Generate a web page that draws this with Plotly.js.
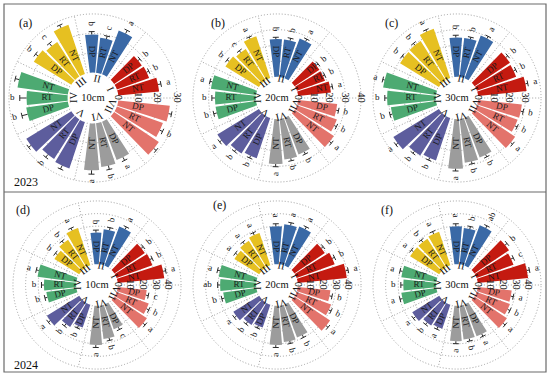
<!DOCTYPE html>
<html><head><meta charset="utf-8">
<script src="https://cdn.plot.ly/plotly-3.0.1.min.js"></script>
<style>html,body{margin:0;padding:0;background:#fff}#chart{width:550px;height:378px}</style>
</head><body><div id="chart"></div>
<script>
// ---------- categories / labels ----------
const groups = ['I','II','III','IV','V','VI','VII'];
const treatments = ['NT','RT','DP'];          // counter-clockwise order inside a group
const groupColors = ['#C41A10','#3A69A6','#E6C021','#4DAA72','#5D5D9D','#9C9C9C','#E3736B'];
const panelTags = ['(a)','(b)','(c)','(d)','(e)','(f)'];
const depths = ['10cm','20cm','30cm','10cm','20cm','30cm'];
const years = ['2023','2024'];
const ticksA = [0,10,20,30];
const ticksB = [0,10,20,30,40];
const ticksC = [0,10,20,30];
const ticks2024 = [0,10,20,30,40];

// ---------- (a) 2023 10cm ----------
const a_NT = [21, 24, 26.5, 26, 27, 24, 27.5];
const a_RT = [17.5, 18, 21, 21, 24, 22.5, 25];
const a_DP = [17, 19.5, 22.5, 21.5, 25, 21, 26.5];
const a_NT_err = [1.5, 1.8, 1.5, 2.0, 1.5, 2.0, 1.5];
const a_RT_err = [1.2, 1.5, 1.8, 3.5, 1.8, 2.0, 1.5];
const a_DP_err = [1.2, 1.5, 1.5, 3.0, 2.0, 1.8, 1.5];
const a_NT_sig = ['a','a','a','a','a','a','a'];
const a_RT_sig = ['b','c','c','b','b','b','b'];
const a_DP_sig = ['b','b','b','b','ab','a','a'];
// ---------- (b) 2023 20cm ----------
const b_NT = [21, 27, 28, 29, 31, 28.5, 30];
const b_RT = [19, 24, 23.5, 26, 28.5, 26, 27];
const b_DP = [19, 24, 25, 26, 27, 25, 25];
const b_NT_err = [1.5, 1.5, 1.2, 1.5, 1.5, 1.8, 1.5];
const b_RT_err = [1.2, 1.5, 1.5, 2.0, 1.5, 1.5, 1.5];
const b_DP_err = [1.5, 1.2, 1.5, 2.0, 1.5, 1.5, 1.5];
const b_NT_sig = ['a','a','a','a','a','a','a'];
const b_RT_sig = ['b','b','c','b','b','b','b'];
const b_DP_sig = ['b','b','b','b','b','b','b'];
// ---------- (c) 2023 30cm ----------
const c_NT = [31, 29, 33, 34, 34, 31.5, 31];
const c_RT = [26.5, 25, 29.5, 31, 30, 28, 27.5];
const c_DP = [27, 25, 29, 29, 28.5, 27, 28];
const c_NT_err = [1.5, 1.5, 1.2, 1.2, 1.5, 1.5, 1.5];
const c_RT_err = [1.5, 1.2, 1.5, 1.5, 1.5, 1.5, 1.5];
const c_DP_err = [1.5, 1.5, 1.5, 1.5, 1.5, 1.5, 1.5];
const c_NT_sig = ['a','a','a','a','a','a','a'];
const c_RT_sig = ['b','b','b','b','b','b','b'];
const c_DP_sig = ['b','b','b','b','b','b','b'];
// ---------- (d) 2024 10cm ----------
const d_NT = [37, 33, 31, 31, 30, 31, 31];
const d_RT = [30, 28, 26, 25.5, 23, 26.5, 27];
const d_DP = [29, 25, 23, 24, 19, 21, 23];
const d_NT_err = [2.0, 2.0, 2.0, 2.0, 2.0, 2.0, 2.0];
const d_RT_err = [2.0, 2.0, 2.0, 2.0, 2.0, 2.0, 2.0];
const d_DP_err = [2.0, 2.0, 2.0, 2.0, 2.0, 2.0, 2.0];
const d_NT_sig = ['a','a','a','a','a','a','a'];
const d_RT_sig = ['b','b','b','b','b','b','b'];
const d_DP_sig = ['b','b','b','b','b','c','c'];
// ---------- (e) 2024 20cm ----------
const e_NT = [39, 33, 27, 30, 24, 31, 34];
const e_RT = [32, 32, 25, 28.5, 21, 29, 29];
const e_DP = [29, 30, 23, 26.5, 19, 28, 26];
const e_NT_err = [2.0, 2.0, 2.0, 2.0, 2.0, 2.0, 2.0];
const e_RT_err = [2.0, 2.0, 2.0, 2.0, 2.0, 2.0, 2.0];
const e_DP_err = [2.0, 2.0, 2.0, 2.0, 2.0, 2.0, 2.0];
const e_NT_sig = ['a','a','a','a','a','a','a'];
const e_RT_sig = ['b','a','a','ab','b','b','b'];
const e_DP_sig = ['b','a','a','b','b','b','b'];
// ---------- (f) 2024 30cm ----------
const f_NT = [40, 34, 28, 28, 25, 28, 31];
const f_RT = [31, 29, 27, 26, 21.5, 27, 28];
const f_DP = [33, 30, 27, 28, 20, 27, 27];
const f_NT_err = [2.0, 2.0, 2.0, 2.0, 2.0, 2.0, 2.0];
const f_RT_err = [2.0, 2.0, 2.0, 2.0, 2.0, 2.0, 2.0];
const f_DP_err = [2.0, 2.0, 2.0, 2.0, 2.0, 2.0, 2.0];
const f_NT_sig = ['a','ab','a','a','a','a','a'];
const f_RT_sig = ['c','b','b','b','b','b','b'];
const f_DP_sig = ['b','a','a','a','a','a','a'];

const panels = [
  {NT:a_NT, RT:a_RT, DP:a_DP, NT_err:a_NT_err, RT_err:a_RT_err, DP_err:a_DP_err, NT_sig:a_NT_sig, RT_sig:a_RT_sig, DP_sig:a_DP_sig, ticks:ticksA},
  {NT:b_NT, RT:b_RT, DP:b_DP, NT_err:b_NT_err, RT_err:b_RT_err, DP_err:b_DP_err, NT_sig:b_NT_sig, RT_sig:b_RT_sig, DP_sig:b_DP_sig, ticks:ticksB},
  {NT:c_NT, RT:c_RT, DP:c_DP, NT_err:c_NT_err, RT_err:c_RT_err, DP_err:c_DP_err, NT_sig:c_NT_sig, RT_sig:c_RT_sig, DP_sig:c_DP_sig, ticks:ticksC},
  {NT:d_NT, RT:d_RT, DP:d_DP, NT_err:d_NT_err, RT_err:d_RT_err, DP_err:d_DP_err, NT_sig:d_NT_sig, RT_sig:d_RT_sig, DP_sig:d_DP_sig, ticks:ticks2024},
  {NT:e_NT, RT:e_RT, DP:e_DP, NT_err:e_NT_err, RT_err:e_RT_err, DP_err:e_DP_err, NT_sig:e_NT_sig, RT_sig:e_RT_sig, DP_sig:e_DP_sig, ticks:ticks2024},
  {NT:f_NT, RT:f_RT, DP:f_DP, NT_err:f_NT_err, RT_err:f_RT_err, DP_err:f_DP_err, NT_sig:f_NT_sig, RT_sig:f_RT_sig, DP_sig:f_DP_sig, ticks:ticks2024}
];

// ---------- layout geometry (styling, px) ----------
const W = 550, H = 378, R = 86;
// min: radial value at centre (inner hole), outer: value of the outermost dotted ring
const geo = [
  {cx:93,  cy:98,  min:-13,   outer:30, labelPx:46},
  {cx:277, cy:98,  min:-13.5, outer:40, labelPx:46},
  {cx:457, cy:98,  min:-13.5, outer:40, labelPx:46},
  {cx:97,  cy:285, min:-16.5, outer:50, labelPx:38},
  {cx:277, cy:285, min:-16.5, outer:50, labelPx:38},
  {cx:457, cy:285, min:-16.5, outer:50, labelPx:38}
];
const FONT = 'Liberation Serif, Times New Roman, serif';
const GRID = '#9e9e9e';
const step = 360 / groups.length;
const centerAngle = k => step * (k + 0.5);
const barOffset = {NT:-14, RT:0, DP:14};
const barWidth = 12;
const norm = a => ((a % 360) + 360) % 360;
const radialRot = th => { const t = norm(th); return Math.cos(t*Math.PI/180) >= 0 ? -t : 180 - t; };
const tangRot = th => 90 - norm(th);

const traces = [];
const rotations = {};
const layout = {
  width: W, height: H, margin:{l:0,r:0,t:0,b:0},
  paper_bgcolor:'#fff', showlegend:false,
  font:{family:FONT, color:'#111'},
  annotations:[], shapes:[]
};

function textTrace(subplot, uid, r, theta, text, rot, size, color) {
  rotations[uid] = {rot, size};
  return {type:'scatterpolar', subplot, uid, mode:'text', r, theta, text,
    textposition:'middle center', cliponaxis:false, hoverinfo:'skip',
    textfont:{family:FONT, size, color}};
}

panels.forEach((p, i) => {
  const G = geo[i];
  const sp = i === 0 ? 'polar' : 'polar' + (i + 1);
  // leave ~2px beyond outer ring so the ring's gridline is kept
  const ppu0 = R / (G.outer - G.min);
  const rmax = G.outer + 2 / ppu0;
  const ppu = R / (rmax - G.min);
  const dom = {x:[(G.cx - R)/W, (G.cx + R)/W], y:[(H - G.cy - R)/H, (H - G.cy + R)/H]};
  const gridVals = [];
  for (let v = 10; v <= G.outer; v += 10) gridVals.push(v);

  layout[sp] = {
    domain: dom, bgcolor:'rgba(0,0,0,0)',
    radialaxis:{range:[G.min, rmax], tickvals:gridVals, showticklabels:false,
      ticks:'', showline:false, showgrid:true, gridcolor:GRID, griddash:'1px,2px', gridwidth:1},
    angularaxis:{showgrid:false, showticklabels:false, ticks:'', showline:false, rotation:0, direction:'counterclockwise'}
  };

  // angular dotted grid lines at group boundaries
  const gr = [], gt = [];
  groups.forEach((g, k) => { gr.push(0, G.outer, null); gt.push(k*step, k*step, null); });
  traces.push({type:'scatterpolar', subplot:sp, mode:'lines', r:gr, theta:gt, hoverinfo:'skip',
    line:{color:GRID, width:1, dash:'1px,2px'}});

  // bars
  treatments.forEach(t => {
    traces.push({type:'barpolar', subplot:sp, r:p[t],
      theta:groups.map((g, k) => centerAngle(k) + barOffset[t]),
      width:barWidth, marker:{color:groupColors, line:{width:0}}, hoverinfo:'skip'});
  });

  // error bars + letters + bar labels
  const er = [], et = [];
  const lr = [], lt = [], ltx = [], lrot = [];
  const br = [], bt = [], btx = [], brot = [];
  treatments.forEach(t => {
    p[t].forEach((v, k) => {
      const th = centerAngle(k) + barOffset[t];
      const top = v + p[t + '_err'][k];
      er.push(v, top, null); et.push(th, th, null);
      const rpx = (top - G.min) * ppu;
      const d = 3 / rpx * 180 / Math.PI;
      er.push(top, top, null); et.push(th - d, th + d, null);
      const sig = p[t + '_sig'][k];
      lr.push(top + (5 + 2.5*sig.length) / ppu); lt.push(th); ltx.push(sig); lrot.push(radialRot(th));
      br.push(G.min + G.labelPx / ppu); bt.push(th); btx.push(t); brot.push(radialRot(th));
    });
  });
  traces.push({type:'scatterpolar', subplot:sp, mode:'lines', r:er, theta:et, hoverinfo:'skip',
    line:{color:'#2a2a2a', width:1}});
  traces.push(textTrace(sp, 'sig' + i, lr, lt, ltx, lrot, 9, '#111'));
  traces.push(textTrace(sp, 'trt' + i, br, bt, btx, brot, 9, '#1a1a1a'));

  // radial tick labels along the 0-degree line (rotated)
  traces.push(textTrace(sp, 'tick' + i, p.ticks, p.ticks.map(() => 0), p.ticks.map(String),
    p.ticks.map(() => 90), 10.5, '#111'));

  // group numerals and depth label
  const nr = groups.map(() => G.min + 19 / ppu);
  const nt = groups.map((g, k) => centerAngle(k));
  traces.push(textTrace(sp, 'grp' + i, nr, nt, groups, nt.map(tangRot), 10.5, '#111'));
  traces.push(textTrace(sp, 'dep' + i, [G.min], [0], [depths[i]], [0], 10.5, '#111'));
});

// panel tags and years
const tagPos = [[25,23],[218,23],[391,23],[23,210],[219,205],[387,210]];
panelTags.forEach((t, i) => layout.annotations.push({text:t, xref:'paper', yref:'paper',
  x:tagPos[i][0]/W, y:1 - tagPos[i][1]/H, xanchor:'center', yanchor:'middle', showarrow:false,
  font:{family:FONT, size:12, color:'#111'}}));
const yearPos = [[26,182],[26,365]];
years.forEach((t, i) => layout.annotations.push({text:t, xref:'paper', yref:'paper',
  x:yearPos[i][0]/W, y:1 - yearPos[i][1]/H, xanchor:'center', yanchor:'middle', showarrow:false,
  font:{family:FONT, size:12, color:'#111'}}));

layout.shapes.push({type:'rect', xref:'paper', yref:'paper', x0:4/W, x1:546/W, y0:1-372/H, y1:1-4/H,
  line:{color:'#6a6a6a', width:1.2}});
layout.shapes.push({type:'line', xref:'paper', yref:'paper', x0:4/W, x1:546/W, y0:1-192/H, y1:1-192/H,
  line:{color:'#6a6a6a', width:1.2}});

const gd = document.getElementById('chart');
Plotly.newPlot(gd, traces, layout, {staticPlot:true, displayModeBar:false}).then(() => {
  gd.querySelectorAll('.trace').forEach(node => {
    const cd = node.__data__;
    if (!cd || !cd[0] || !cd[0].trace) return;
    const info = rotations[cd[0].trace.uid];
    if (!info) return;
    node.querySelectorAll('.textpoint text').forEach((el, k) => {
      const x = +el.getAttribute('x'), y = +el.getAttribute('y');
      const a = info.rot[k] || 0;
      el.setAttribute('transform', `rotate(${a},${x},${y - 0.3*info.size})`);
    });
  });
});
</script>
</body></html>
